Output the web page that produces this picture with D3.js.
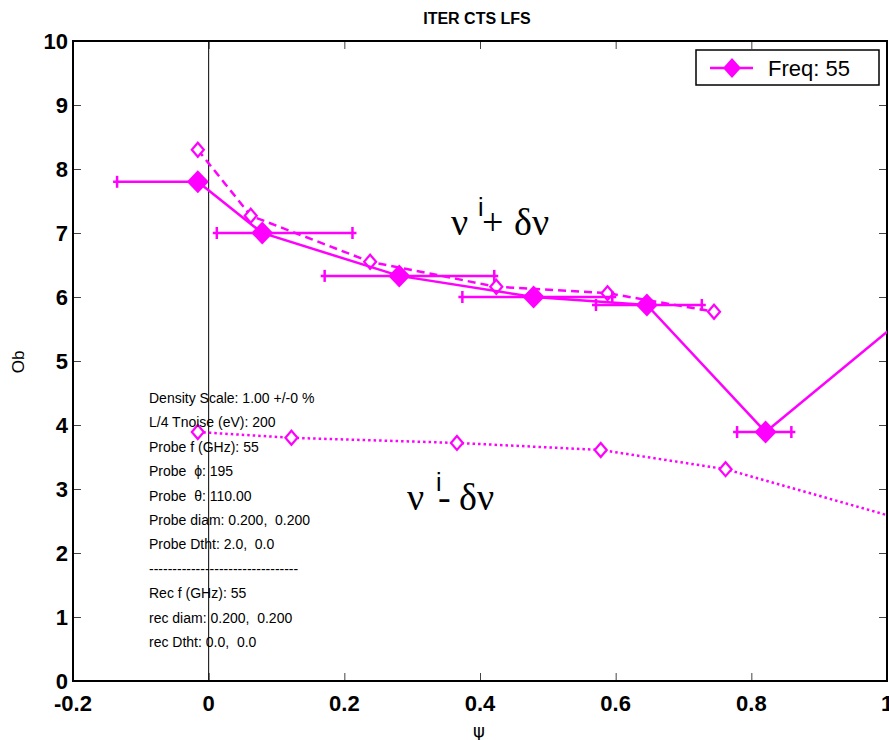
<!DOCTYPE html>
<html><head><meta charset="utf-8">
<script src="https://cdn.jsdelivr.net/npm/d3@7"></script>
<style>
html,body{margin:0;padding:0;background:#fff;}
svg{display:block;font-family:"Liberation Sans",Arial,sans-serif;}
</style></head>
<body>
<svg id="chart" width="889" height="740"></svg>
<script>
// ---- data ----
const title = "ITER CTS LFS";
const xTicks = [-0.2, 0, 0.2, 0.4, 0.6, 0.8, 1];
const xTickLabels = ["-0.2", "0", "0.2", "0.4", "0.6", "0.8", "1"];
const yTicks = [0,1,2,3,4,5,6,7,8,9,10];
// main series (Freq: 55): filled diamonds with horizontal bars
const mainX    = [-0.016, 0.079, 0.281, 0.479, 0.646, 0.821, 1.05];
const mainY    = [7.80, 7.00, 6.33, 6.00, 5.875, 3.89, 5.89];
const mainXlo  = [-0.135, 0.012, 0.171, 0.374, 0.571, 0.779, null];
const mainXhi  = [-0.016, 0.212, 0.421, 0.595, 0.727, 0.859, null];
// upper (nu_i + dnu): dashed, open diamonds
const upX = [-0.016, 0.062, 0.238, 0.424, 0.588, 0.745];
const upY = [8.30, 7.27, 6.55, 6.16, 6.06, 5.77];
// lower (nu_i - dnu): dotted, open diamonds
const loX = [-0.016, 0.122, 0.366, 0.578, 0.762, 1.10];
const loY = [3.89, 3.80, 3.72, 3.61, 3.31, 2.29];
const legendLabel = "Freq: 55";
const infoLines = [
  "Density Scale: 1.00 +/-0 %",
  "L/4 Tnoise (eV): 200",
  "Probe f (GHz): 55",
  "Probe  \u03D5: 195",
  "Probe  \u03B8: 110.00",
  "Probe diam: 0.200,  0.200",
  "Probe Dtht: 2.0,  0.0",
  "--------------------------------",
  "Rec f (GHz): 55",
  "rec diam: 0.200,  0.200",
  "rec Dtht: 0.0,  0.0"
];

// ---- layout ----
const W = 889, H = 740;
const L = 73, R = 887, T = 41, B = 681;
const color = "#ff00ff";
const svg = d3.select("#chart");
const x = d3.scaleLinear().domain([-0.2, 1]).range([L, R]);
const y = d3.scaleLinear().domain([0, 10]).range([B, T]);

svg.append("defs").append("clipPath").attr("id","clip")
  .append("rect").attr("x", L).attr("y", T).attr("width", R - L).attr("height", B - T);

// title
svg.append("text").attr("x", 477).attr("y", 24).attr("text-anchor","middle")
  .attr("font-size", 16).attr("font-weight","bold").attr("fill","#000")
  .text(title);

// axes with inward ticks
const tickLen = 8;
const xb = d3.axisTop(x).tickValues(xTicks).tickSize(tickLen).tickFormat("");
const xt = d3.axisBottom(x).tickValues(xTicks).tickSize(tickLen).tickFormat("");
const yl = d3.axisRight(y).tickValues(yTicks).tickSize(tickLen).tickFormat("");
const yr = d3.axisLeft(y).tickValues(yTicks).tickSize(tickLen).tickFormat("");
svg.append("g").attr("transform",`translate(0,${B})`).call(xb);
svg.append("g").attr("transform",`translate(0,${T})`).call(xt);
svg.append("g").attr("transform",`translate(${L},0)`).call(yl);
svg.append("g").attr("transform",`translate(${R},0)`).call(yr);
svg.selectAll(".domain").remove();
svg.selectAll(".tick line").attr("stroke","#444").attr("stroke-width",1);

// frame
svg.append("rect").attr("x",L).attr("y",T).attr("width",R-L).attr("height",B-T)
  .attr("fill","none").attr("stroke","#000").attr("stroke-width",2);

// zero line
svg.append("line").attr("x1",x(0)).attr("x2",x(0)).attr("y1",T).attr("y2",B)
  .attr("stroke","#000").attr("stroke-width",1);

// tick labels
svg.append("g").selectAll("text").data(xTicks).join("text")
  .attr("x", d => x(d)).attr("y", 711).attr("text-anchor","middle")
  .attr("font-size", 22).attr("font-weight","bold")
  .text((d,i) => xTickLabels[i]);
svg.append("g").selectAll("text").data(yTicks).join("text")
  .attr("x", 68).attr("y", d => y(d) + 8).attr("text-anchor","end")
  .attr("font-size", 22).attr("font-weight","bold")
  .text(d => d);

// axis labels
svg.append("text").attr("x", 479).attr("y", 737).attr("text-anchor","middle")
  .attr("font-size", 18).attr("font-family","'DejaVu Sans',sans-serif").text("\u03C8");
svg.append("text").attr("transform","translate(24,362) rotate(-90)").attr("text-anchor","middle")
  .attr("font-size", 17).text("Ob");

// data layer
const g = svg.append("g").attr("clip-path","url(#clip)");
const line = d3.line().x(d => x(d[0])).y(d => y(d[1]));
const diamond = (cx, cy, hw, hh) => `M${cx},${cy-hh}L${cx+hw},${cy}L${cx},${cy+hh}L${cx-hw},${cy}Z`;

// dotted lower
const loPts = loX.map((v,i)=>[v, loY[i]]);
g.append("path").attr("d", line(loPts)).attr("fill","none").attr("stroke",color)
  .attr("stroke-width",2.5).attr("stroke-dasharray","2.5,3");
g.append("g").selectAll("path").data(loPts).join("path")
  .attr("d", d => diamond(x(d[0]), y(d[1]), 6, 7))
  .attr("fill","#fff").attr("stroke",color).attr("stroke-width",2.2);

// dashed upper
const upPts = upX.map((v,i)=>[v, upY[i]]);
g.append("path").attr("d", line(upPts)).attr("fill","none").attr("stroke",color)
  .attr("stroke-width",2.5).attr("stroke-dasharray","8,5");
g.append("g").selectAll("path").data(upPts).join("path")
  .attr("d", d => diamond(x(d[0]), y(d[1]), 6, 7))
  .attr("fill","#fff").attr("stroke",color).attr("stroke-width",2.2);

// main solid
const mainPts = mainX.map((v,i)=>({x:v, y:mainY[i], lo:mainXlo[i], hi:mainXhi[i]}));
g.append("path").attr("d", line(mainPts.map(d=>[d.x,d.y]))).attr("fill","none")
  .attr("stroke",color).attr("stroke-width",2.5);
const bars = mainPts.filter(d => d.lo !== null);
const ext = 4;
const eb = g.append("g").attr("stroke",color).attr("stroke-width",2.5);
eb.selectAll("line.h").data(bars).join("line").attr("class","h")
  .attr("x1", d=>x(d.lo)-ext).attr("x2", d=>x(d.hi) + (d.hi !== d.x ? ext : 0))
  .attr("y1", d=>y(d.y)).attr("y2", d=>y(d.y));
eb.selectAll("line.cl").data(bars).join("line").attr("class","cl")
  .attr("x1", d=>x(d.lo)).attr("x2", d=>x(d.lo)).attr("y1", d=>y(d.y)-6).attr("y2", d=>y(d.y)+6);
eb.selectAll("line.ch").data(bars.filter(d => d.hi !== d.x)).join("line").attr("class","ch")
  .attr("x1", d=>x(d.hi)).attr("x2", d=>x(d.hi)).attr("y1", d=>y(d.y)-6).attr("y2", d=>y(d.y)+6);
g.append("g").selectAll("path").data(mainPts).join("path")
  .attr("d", d => diamond(x(d.x), y(d.y), 11, 11.5)).attr("fill",color);

// nu annotations
const serif = "'Liberation Serif','Times New Roman',serif";
function nuLabel(x0, base, sign, iDx, signDx, dDx) {
  const t = svg.append("g").attr("font-family", serif).attr("fill","#000");
  t.append("text").attr("x", x0).attr("y", base).attr("font-size", 38).text("\u03BD");
  t.append("text").attr("x", x0 + iDx).attr("y", base - 19).attr("font-size", 25)
    .attr("font-family","'Liberation Sans',Arial,sans-serif").text("i");
  t.append("text").attr("x", x0 + signDx).attr("y", base).attr("font-size", 38).text(sign);
  t.append("text").attr("x", x0 + dDx).attr("y", base).attr("font-size", 38).text("\u03B4\u03BD");
}
nuLabel(451, 235, "+", 27, 31, 63);
nuLabel(407, 510, "-", 29, 31, 52);

// info text
svg.append("g").attr("font-size", 14).attr("fill","#000")
  .selectAll("text").data(infoLines).join("text")
  .attr("x", 149).attr("y", (d,i) => 403 + i * 24.4)
  .attr("xml:space","preserve").style("white-space","pre")
  .text(d => d);

// legend
const lg = svg.append("g");
lg.append("rect").attr("x",696).attr("y",50).attr("width",183).attr("height",35)
  .attr("fill","#fff").attr("stroke","#000").attr("stroke-width",1.5);
lg.append("line").attr("x1",710).attr("x2",753).attr("y1",68).attr("y2",68)
  .attr("stroke",color).attr("stroke-width",2.5);
lg.append("path").attr("d", diamond(732, 68, 9, 10)).attr("fill",color);
lg.append("text").attr("x",768).attr("y",76).attr("font-size",22).text(legendLabel);
</script>
</body></html>
